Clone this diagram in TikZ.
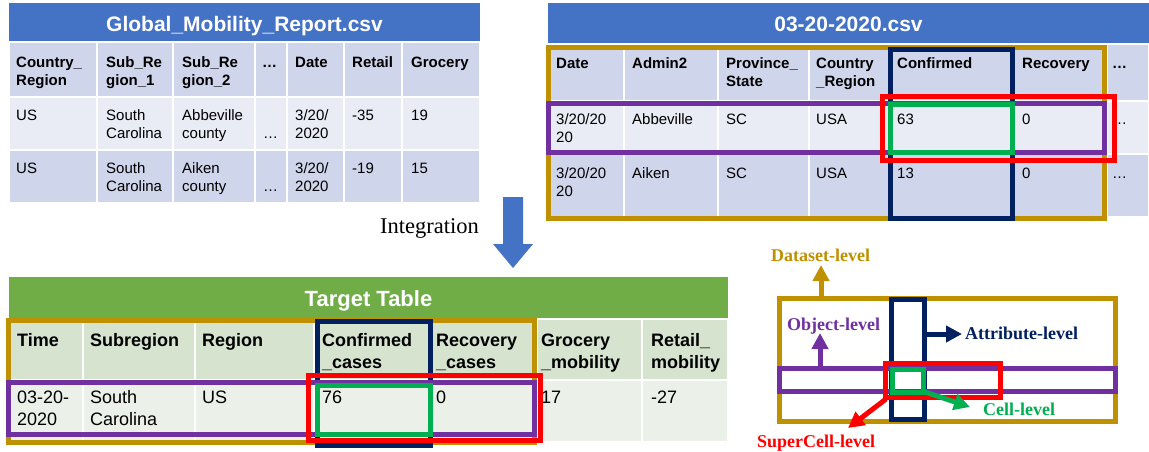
\documentclass[tikz,border=0pt]{standalone}
\usepackage{fontspec}
\setmainfont{Liberation Sans}
\newfontfamily\serifface{Liberation Serif}
\usetikzlibrary{arrows.meta}

\definecolor{goldc}{HTML}{BF9000}
\definecolor{navyc}{HTML}{002060}
\definecolor{purplec}{HTML}{7030A0}
\definecolor{redc}{HTML}{FF0000}
\definecolor{greenc}{HTML}{00B050}
\definecolor{titleblue}{HTML}{4472C4}
\definecolor{titlegreen}{HTML}{70AD47}
\definecolor{bluehead}{HTML}{CFD5EA}
\definecolor{bluerow}{HTML}{E9EBF5}
\definecolor{greenhead}{HTML}{D6E3CF}
\definecolor{greenrow}{HTML}{EBF1E9}

% text placed by the baseline of its first line
\newcommand\hd[4]{\node[smallbold] (#1) at (#2,#3-14) {\rule{0pt}{14pt}#4};}
\newcommand\bd[4]{\node[smallreg] (#1) at (#2,#3-14) {\rule{0pt}{14pt}#4};}
\newcommand\bhd[4]{\node[bigbold] (#1) at (#2,#3-17) {\rule{0pt}{17pt}#4};}
\newcommand\bbd[4]{\node[bigreg] (#1) at (#2,#3-17) {\rule{0pt}{17pt}#4};}

\begin{document}
\begin{tikzpicture}[x=1pt,y=-1pt,
  cell/.style={draw=white,line width=1.5pt},
  celltext/.style={anchor=north west,inner sep=0pt,align=left,text=black},
  smallbold/.style={celltext,font=\fontsize{15}{18}\selectfont\bfseries},
  smallreg/.style={celltext,font=\fontsize{15}{18}\selectfont},
  bigbold/.style={celltext,font=\fontsize{18}{22}\selectfont\bfseries},
  bigreg/.style={celltext,font=\fontsize{18}{22}\selectfont},
  titletext/.style={anchor=base,inner sep=0pt,text=white,font=\fontsize{21}{25}\selectfont\bfseries},
  box/.style={line width=5pt},
  levelarrow/.style={line width=5pt,-{Triangle[width=16pt,length=16pt]}},
  levellabel/.style={anchor=base west,inner sep=0pt,font=\serifface\fontsize{18}{21}\selectfont\bfseries},
]
\useasboundingbox (0,0) rectangle (1149,452);
\fill[white] (0,0) rectangle (1149,452);

% ---------------- Global_Mobility_Report.csv ----------------
\fill[titleblue] (9,3) rectangle (480,42);
\foreach \xa/\xb in {9/97,97/173,173/255,255/287,287/344,344/402,402/480}{
  \path[cell,fill=bluehead] (\xa,42) rectangle (\xb,97);
  \path[cell,fill=bluerow] (\xa,97) rectangle (\xb,150);
  \path[cell,fill=bluehead] (\xa,150) rectangle (\xb,203);
}
\node[titletext] (gmrTitle) at (244.5,31.5) {Global\_Mobility\_Report.csv};
\hd{gh1}{16}{67}{Country\_\\Region}
\hd{gh2}{106}{67}{Sub\_Re\\gion\_1}
\hd{gh3}{182}{67}{Sub\_Re\\gion\_2}
\hd{gh4}{262}{67}{…}
\hd{gh5}{295}{67}{Date}
\hd{gh6}{352}{67}{Retail}
\hd{gh7}{411}{67}{Grocery}
\bd{ga1}{16}{120}{US}
\bd{ga2}{106}{120}{South\\Carolina}
\bd{ga3}{182}{120}{Abbeville\\county}
\bd{ga4}{263}{138}{…}
\bd{ga5}{295}{120}{3/20/\\2020}
\bd{ga6}{352}{120}{-35}
\bd{ga7}{411}{120}{19}
\bd{gb1}{16}{173}{US}
\bd{gb2}{106}{173}{South\\Carolina}
\bd{gb3}{182}{173}{Aiken\\county}
\bd{gb4}{263}{191}{…}
\bd{gb5}{295}{173}{3/20/\\2020}
\bd{gb6}{352}{173}{-19}
\bd{gb7}{411}{173}{15}

% ---------------- 03-20-2020.csv ----------------
\fill[titleblue] (548,3) rectangle (1149,44);
\foreach \xa/\xb in {548/624,624/718,718/809,809/890,890/1012,1012/1107,1107/1149}{
  \path[cell,fill=bluehead] (\xa,44) rectangle (\xb,101);
  \path[cell,fill=bluerow] (\xa,101) rectangle (\xb,154);
  \path[cell,fill=bluehead] (\xa,154) rectangle (\xb,217);
}
\node[titletext] (jhuTitle) at (848.5,31.5) {03-20-2020.csv};
\hd{jh1}{556}{68}{Date}
\hd{jh2}{632}{68}{Admin2}
\hd{jh3}{726}{68}{Province\_\\State}
\hd{jh4}{816}{68}{Country\\\_Region}
\hd{jh5}{897}{68}{Confirmed}
\hd{jh6}{1022}{68}{Recovery}
\hd{jh7}{1112}{68}{…}
\bd{ja1}{556}{124}{3/20/20\\20}
\bd{ja2}{632}{124}{Abbeville}
\bd{ja3}{726}{124}{SC}
\bd{ja4}{816}{124}{USA}
\bd{ja5}{897}{124}{63}
\bd{ja6}{1022}{124}{0}
\bd{ja7}{1112}{124}{…}
\bd{jb1}{556}{178}{3/20/20\\20}
\bd{jb2}{632}{178}{Aiken}
\bd{jb3}{726}{178}{SC}
\bd{jb4}{816}{178}{USA}
\bd{jb5}{897}{178}{13}
\bd{jb6}{1022}{178}{0}
\bd{jb7}{1112}{178}{…}

\draw[box,goldc] (548,47.5) rectangle (1104.5,218.5);
\draw[box,navyc] (890,49.5) rectangle (1012,218.5);
\draw[box,purplec] (548,103) rectangle (1104.5,152);
\draw[box,redc] (882,96.5) rectangle (1114.5,160.5);
\draw[box,greenc] (890,104.5) rectangle (1012,152.5);

% ---------------- Integration arrow ----------------
\node[anchor=base west,inner sep=0pt,font=\serifface\fontsize{22.5}{26}\selectfont] (integ) at (380,233) {Integration};
\fill[titleblue] (503,197) -- (523,197) -- (523,244) -- (533,244) -- (513,268)
  -- (493,244) -- (503,244) -- cycle;

% ---------------- Target Table ----------------
\fill[titlegreen] (9,277) rectangle (728,319);
\foreach \xa/\xb in {9/83,83/195,195/314,314/430,430/537,537/642,642/728}{
  \path[cell,fill=greenhead] (\xa,319) rectangle (\xb,380);
  \path[cell,fill=greenrow] (\xa,380) rectangle (\xb,442);
}
\node[titletext,font=\fontsize{22}{26}\selectfont\bfseries] (tgtTitle) at (368.5,306.5) {Target Table};
\bhd{th1}{17}{346}{Time}
\bhd{th2}{90}{346}{Subregion}
\bhd{th3}{202}{346}{Region}
\bhd{th4}{322}{346}{Confirmed\\\_cases}
\bhd{th5}{436}{346}{Recovery\\\_cases}
\bhd{th6}{541}{346}{Grocery\\\_mobility}
\bhd{th7}{651}{346}{Retail\_\\mobility}
\bbd{ta1}{17}{403}{03-20-\\2020}
\bbd{ta2}{90}{403}{South\\Carolina}
\bbd{ta3}{202}{403}{US}
\bbd{ta4}{322}{403}{76}
\bbd{ta5}{436}{403}{0}
\bbd{ta6}{541}{403}{17}
\bbd{ta7}{651}{403}{-27}

\draw[box,goldc] (8.5,320.5) rectangle (534.5,442.5);
\draw[box,navyc] (317,321.5) rectangle (430,445);
\draw[box,purplec] (8.5,382) rectangle (534.5,434);
\draw[box,redc] (308,375.5) rectangle (540.5,440.5);
\draw[box,greenc] (317,385.5) rectangle (430,434);

% ---------------- granularity levels ----------------
\draw[box,goldc] (779.5,298) rectangle (1115,421.5);
\draw[box,navyc] (891.5,299) rectangle (924,419.5);
\draw[box,purplec] (779.5,368) rectangle (1115,391.5);
\draw[box,redc] (885.5,363) rectangle (1000,397);
\draw[box,greenc] (892,369) rectangle (923.5,392.5);

\coordinate (dsFrom) at (821,298);
\coordinate (dsTip) at (821,265);
\coordinate (objFrom) at (820,368);
\coordinate (objTip) at (820,333);
\coordinate (attFrom) at (924,334);
\coordinate (attTip) at (962,334);
\coordinate (cellFrom) at (925,392);
\coordinate (cellTip) at (970,407);
\coordinate (scFrom) at (886,399);
\coordinate (scTip) at (848,428);

\draw[levelarrow,goldc] (dsFrom) -- (dsTip);
\draw[levelarrow,purplec] (objFrom) -- (objTip);
\draw[levelarrow,navyc] (attFrom) -- (attTip);
\draw[levelarrow,greenc] (cellFrom) -- (cellTip);
\draw[levelarrow,redc] (scFrom) -- (scTip);

\node[levellabel,text=goldc] (dsLabel) at (771,261) {Dataset-level};
\node[levellabel,text=purplec] (objLabel) at (787,330) {Object-level};
\node[levellabel,text=navyc] (attLabel) at (965,339) {Attribute-level};
\node[levellabel,text=greenc] (cellLabel) at (983,415) {Cell-level};
\node[levellabel,text=redc] (scLabel) at (757,447) {SuperCell-level};
\end{tikzpicture}
\end{document}
